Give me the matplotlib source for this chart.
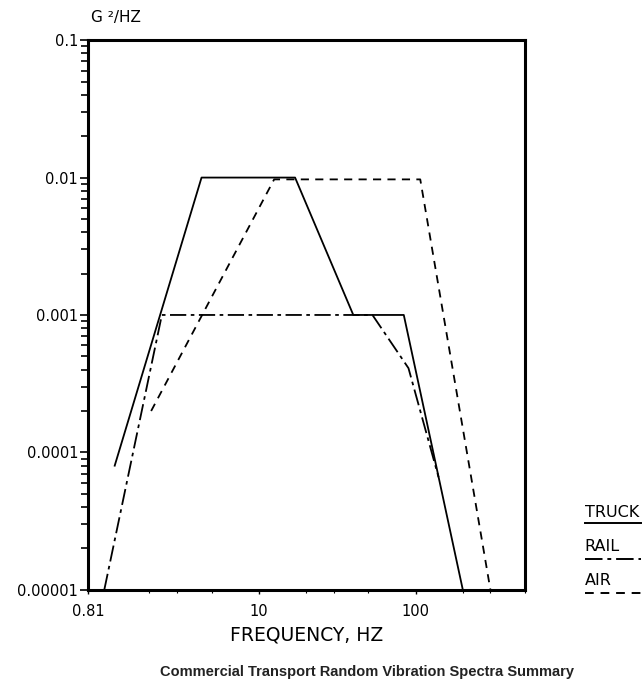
import matplotlib.pyplot as plt
from matplotlib.lines import Line2D
from matplotlib.ticker import FixedLocator, LogLocator, NullFormatter

# PSD breakpoints (frequency in Hz, level in G^2/Hz)
truck_f = [1.2, 4.3, 17, 40, 84, 200]
truck_g = [8e-5, 0.01, 0.01, 0.001, 0.001, 1e-5]

rail_f = [1.03, 2.4, 53, 90, 140]
rail_g = [1e-5, 0.001, 0.001, 4.1e-4, 6.6e-5]

air_f = [2.05, 12.5, 107, 300]
air_g = [2e-4, 0.0097, 0.0097, 1e-5]

x_ticks = [0.81, 10, 100]
x_labels = ['0.81', '10', '100']
y_ticks = [1e-5, 1e-4, 1e-3, 1e-2, 1e-1]
y_labels = ['0.00001', '0.0001', '0.001', '0.01', '0.1']

plt.rcParams['font.family'] = ['DejaVu Sans']

fig = plt.figure(figsize=(6.42, 6.81), dpi=100)
ax = fig.add_axes([0.137, 0.134, 0.681, 0.807])

solid = '-'
dashdot = (0, (9, 2.5, 2, 2.5))
dashed = (0, (4.5, 3.5))

ax.plot(truck_f, truck_g, color='black', lw=1.3, linestyle=solid)
ax.plot(rail_f, rail_g, color='black', lw=1.3, linestyle=dashdot)
ax.plot(air_f, air_g, color='black', lw=1.3, linestyle=dashed)

ax.set_xscale('log')
ax.set_yscale('log')
ax.set_xlim(0.81, 500)
ax.set_ylim(1e-5, 0.1)

ax.xaxis.set_major_locator(FixedLocator(x_ticks))
ax.set_xticklabels(x_labels)
ax.xaxis.set_minor_locator(LogLocator(base=10, subs=(2, 3, 5)))
ax.xaxis.set_minor_formatter(NullFormatter())
ax.tick_params(axis='x', which='major', length=3, width=1, labelsize=10.5, pad=7)
ax.tick_params(axis='x', which='minor', length=2, width=0.8)

ax.yaxis.set_major_locator(FixedLocator(y_ticks))
ax.set_yticklabels(y_labels)
ax.yaxis.set_minor_locator(LogLocator(base=10, subs=range(2, 10)))
ax.yaxis.set_minor_formatter(NullFormatter())
ax.tick_params(axis='y', which='major', length=6, width=1.2, labelsize=10.5, pad=1)
ax.tick_params(axis='y', which='minor', length=5, width=1.2)

for side in ['left', 'right', 'top', 'bottom']:
    ax.spines[side].set_linewidth(2.2)

ax.set_xlabel('FREQUENCY, HZ', fontsize=13.5, labelpad=5)
fig.text(0.142, 0.974, 'G ²/HZ', fontsize=11, ha='left', va='center')

fig.text(0.571, 0.013, 'Commercial Transport Random Vibration Spectra Summary',
         fontsize=10.5, ha='center', va='center', family=['Liberation Sans'],
         fontweight='bold', color='#222222')

# key at the right: name above a short line sample
key = [('TRUCK', solid, 0.232, 0.248), ('RAIL', dashdot, 0.179, 0.197),
       ('AIR', dashed, 0.129, 0.148)]
for name, style, y_line, y_text in key:
    fig.text(0.911, y_text, name, fontsize=11.5, ha='left', va='center')
    fig.add_artist(Line2D([0.911, 0.998], [y_line, y_line], transform=fig.transFigure,
                          color='black', lw=1.4, linestyle=style))

fig.savefig('out.png', dpi=100, facecolor='white')
